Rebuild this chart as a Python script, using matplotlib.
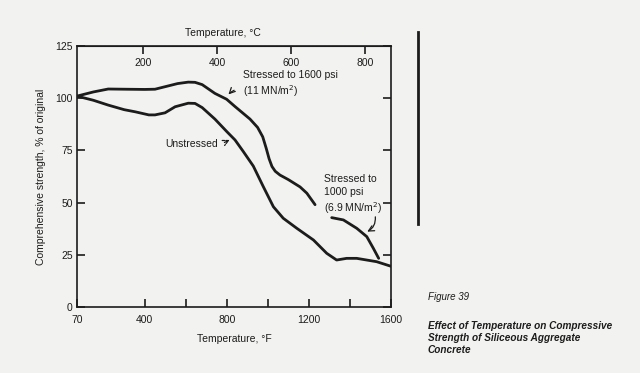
import matplotlib
matplotlib.use("Agg")
import matplotlib.pyplot as plt
from matplotlib.lines import Line2D

plt.rcParams['font.family'] = ['Liberation Sans', 'DejaVu Sans']

# ---- data ----
stressed1600_f = [70, 150, 222, 304, 400, 450, 499, 560, 612, 645, 680, 742, 799, 840,
                  913, 950, 975, 992, 1006, 1020, 1036, 1059, 1100, 1157, 1190, 1230]
stressed1600_pct = [101, 103, 104.4, 104.3, 104.2, 104.3, 105.5, 107, 107.7, 107.6, 106.5,
                    102.3, 99.5, 96, 90, 86, 81.5, 76, 71, 67.3, 65, 63.2, 61, 57.5, 54.5, 49]

unstressed_f = [70, 150, 222, 300, 353, 420, 450, 499, 548, 612, 645, 680, 742, 800, 840,
                880, 929, 978, 1027, 1075, 1141, 1222, 1287, 1335, 1384, 1433, 1530, 1600]
unstressed_pct = [101, 99, 96.7, 94.5, 93.5, 92, 92, 93, 95.9, 97.6, 97.5, 95.5, 90, 84, 80,
                  74.5, 67.5, 57.6, 48, 42.5, 37.7, 32.1, 25.7, 22.5, 23.3, 23.3, 21.7, 19.5]

stressed1000_f = [1311, 1368, 1433, 1482, 1514, 1540]
stressed1000_pct = [42.8, 41.7, 37.7, 33.7, 28.1, 23.3]

x_ticks_major = [70, 400, 800, 1200, 1600]
x_ticks_minor = [600, 1000, 1400]
y_ticks = [0, 25, 50, 75, 100, 125]
c_ticks = [200, 400, 600, 800]

bg = '#f2f2f0'
ink = '#1c1c1c'

fig = plt.figure(figsize=(6.4, 3.73), dpi=100, facecolor=bg)
ax = fig.add_axes([77/640, 1-307/373, 314/640, 261/373], facecolor=bg)

for xs, ys in [(stressed1600_f, stressed1600_pct), (unstressed_f, unstressed_pct),
               (stressed1000_f, stressed1000_pct)]:
    ax.plot(xs, ys, color=ink, lw=2.0, solid_capstyle='round', solid_joinstyle='round')

ax.set_xlim(70, 1600)
ax.set_ylim(0, 125)
ax.set_xticks(x_ticks_major)
ax.set_xticks(x_ticks_minor, minor=True)
ax.set_yticks(y_ticks)
for s in ax.spines.values():
    s.set_color(ink)
    s.set_linewidth(1.2)
ax.tick_params(axis='both', which='both', direction='in', length=6, width=1.2,
               colors=ink, labelsize=7.5)
ax.tick_params(axis='y', which='both', right=True, pad=3)
ax.tick_params(axis='x', which='both', pad=6)
ax.set_xlabel('Temperature, °F', fontsize=7.5, color=ink, labelpad=6)
ax.set_ylabel('Comprehensive strength, % of original', fontsize=7.5, color=ink, labelpad=7)

sec = ax.secondary_xaxis('top', functions=(lambda f: (f - 32) * 5 / 9,
                                           lambda c: c * 9 / 5 + 32))
sec.set_xticks(c_ticks)
sec.tick_params(direction='in', length=6, width=1.2, colors=ink, labelsize=7.5, pad=-16)
sec.spines['top'].set_color(ink)
fig.text(223/640, 1-33/373, 'Temperature, °C', fontsize=7.5, color=ink,
         ha='center', va='center')

# annotations
ax.text(879, 106.5, 'Stressed to 1600 psi\n(11 MN/m$^2$)', fontsize=7.5, color=ink,
        ha='left', va='center', linespacing=1.3)
ax.annotate('', xy=(799, 100.8), xytext=(848, 104.3),
            arrowprops=dict(arrowstyle='->', color=ink, lw=0.9,
                            connectionstyle='arc3,rad=0.15'))
ax.text(758, 78, 'Unstressed', fontsize=7.5, color=ink, ha='right', va='center')
ax.annotate('', xy=(826, 80.6), xytext=(776, 78.2),
            arrowprops=dict(arrowstyle='->', color=ink, lw=0.9, linestyle=(0, (2, 1))))
ax.text(1274, 63.5, 'Stressed to\n1000 psi\n(6.9 MN/m$^2$)', fontsize=7.5, color=ink,
        ha='left', va='top', linespacing=1.3)
ax.annotate('', xy=(1472, 35.5), xytext=(1522, 44.5),
            arrowprops=dict(arrowstyle='->', color=ink, lw=0.9,
                            connectionstyle='arc3,rad=-0.4'))

# right side bar and caption
fig.add_artist(Line2D([418/640, 418/640], [1-32/373, 1-224/373], color=ink, lw=2.0))
fig.text(428/640, 1-297/373, 'Figure 39', fontsize=7, style='italic', color=ink,
         ha='left', va='center')
fig.text(428/640, 1-321/373,
         'Effect of Temperature on Compressive\nStrength of Siliceous Aggregate\nConcrete',
         fontsize=7.2, style='italic', weight='bold', color=ink, ha='left', va='top',
         linespacing=1.25)

fig.savefig('out.png', dpi=100, facecolor=bg)
